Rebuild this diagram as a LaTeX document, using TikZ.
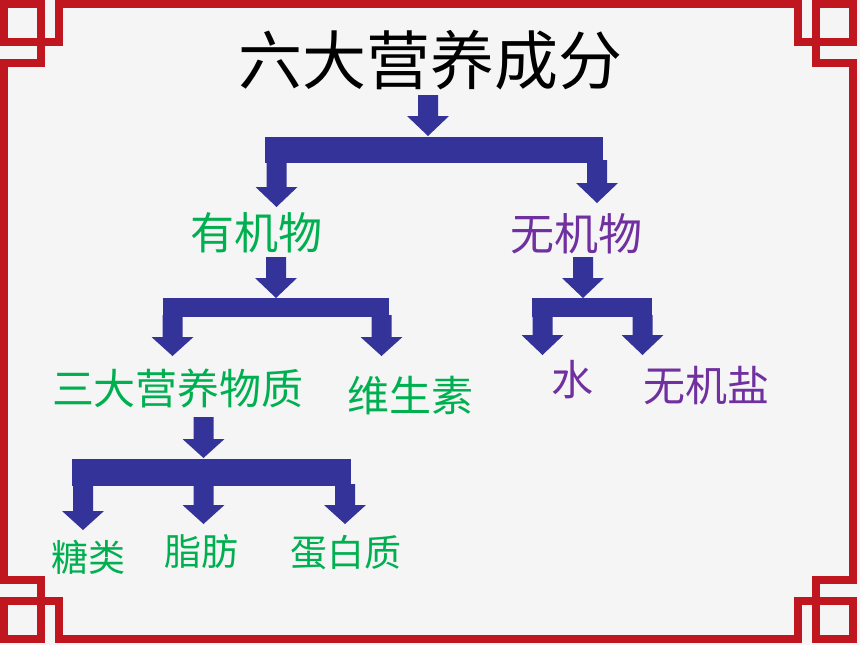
\documentclass[tikz,border=0pt]{standalone}
\usepackage{fontspec}
\newfontfamily\cjk{Noto Sans CJK SC}
\definecolor{bg}{HTML}{F5F5F5}
\definecolor{fret}{HTML}{C0161F}
\definecolor{arrowblue}{HTML}{333399}
\definecolor{leafgreen}{HTML}{00B050}
\definecolor{inorg}{HTML}{7030A0}
\newcommand\blkarrow[4]{%
  \fill[blockfill] ({#1-10},#2) -- ({#1+10},#2) -- ({#1+10},#3) -- ({#1+21},#3)
    -- (#1,#4) -- ({#1-21},#3) -- ({#1-10},#3) -- cycle;}
\tikzset{
  blockfill/.style={fill=arrowblue},
  fretline/.style={draw=fret, line width=8pt, line join=miter},
  lbl/.style={inner sep=0pt},
  titletext/.style={lbl, text=black, font=\cjk\fontsize{64}{64}\selectfont},
  orgtext/.style={lbl, text=leafgreen, font=\cjk\fontsize{44}{44}\selectfont},
  inorgtext/.style={lbl, text=inorg, font=\cjk\fontsize{44}{44}\selectfont},
  midgreen/.style={lbl, text=leafgreen, font=\cjk\fontsize{42}{42}\selectfont},
  midpurple/.style={lbl, text=inorg, font=\cjk\fontsize{42}{42}\selectfont},
  smallgreen/.style={lbl, text=leafgreen, font=\cjk\fontsize{37}{37}\selectfont},
}
\begin{document}
\begin{tikzpicture}[x=1pt,y=-1pt]
\useasboundingbox (0,0) rectangle (860,645);
\fill[bg] (0,0) rectangle (860,645);
% fretwork frame
\draw[fretline] (59,4) -- (798,4)
  -- (798,42) -- (853,42) -- (853,4) -- (816,4) -- (816,63) -- (853,63)
  -- (853,580)
  -- (816,580) -- (816,639) -- (853,639) -- (853,601) -- (798,601) -- (798,639)
  -- (59,639)
  -- (59,601) -- (4,601) -- (4,639) -- (41,639) -- (41,580) -- (4,580)
  -- (4,63)
  -- (41,63) -- (41,4) -- (4,4) -- (4,42) -- (59,42) -- cycle;
% texts
\node[titletext] (title) at (430,60) {六大营养成分};
\node[orgtext] (org) at (256,233) {有机物};
\node[inorgtext] (inorgn) at (576,234) {无机物};
\node[midgreen] (three) at (178,388) {三大营养物质};
\node[midgreen] (vit) at (410,396) {维生素};
\node[midpurple] (water) at (572,380) {水};
\node[midpurple] (salt) at (706,386) {无机盐};
\node[smallgreen] (sugar) at (88,557) {糖类};
\node[smallgreen] (fat) at (201,551) {脂肪};
\node[smallgreen] (protein) at (346,553) {蛋白质};
% level 1
\blkarrow{428}{95}{116}{136}
\fill[blockfill] (265,137) rectangle (603,163);
\blkarrow{276.5}{160}{187}{207}
\blkarrow{597}{160}{183}{203}
% level 2 left
\blkarrow{276}{257}{278}{298}
\fill[blockfill] (163,298) rectangle (389,317);
\blkarrow{172.5}{315}{337}{356}
\blkarrow{381.5}{315}{337}{356}
% level 2 right
\blkarrow{583}{257}{278}{298}
\fill[blockfill] (532,298) rectangle (652,317);
\blkarrow{542.5}{315}{335}{355}
\blkarrow{642.5}{315}{335}{355}
% level 3
\blkarrow{203.5}{417}{439}{458}
\fill[blockfill] (72,459) rectangle (351,486);
\blkarrow{83}{484}{511}{530}
\blkarrow{203.5}{484}{505}{524}
\blkarrow{345}{484}{505}{524}
\end{tikzpicture}
\end{document}
